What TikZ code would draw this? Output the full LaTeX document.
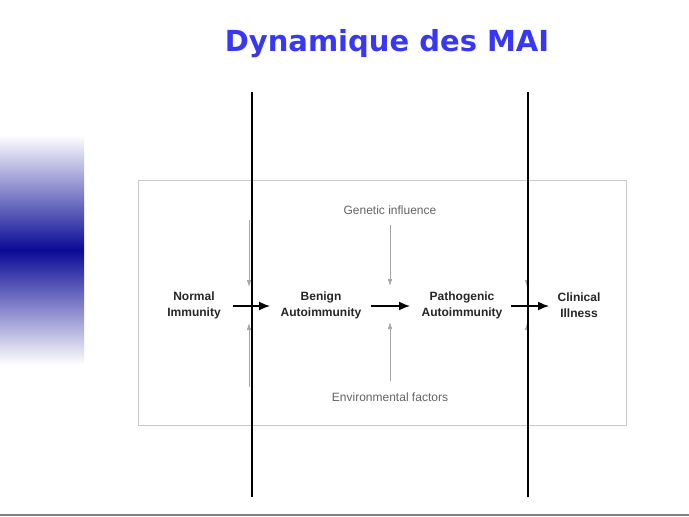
\documentclass[tikz,border=0pt]{standalone}
\usepackage{fontspec}
\setmainfont{Liberation Sans}
\newfontfamily\titlefont{DejaVu Sans}
\usetikzlibrary{arrows.meta}
\definecolor{titleblue}{RGB}{55,55,245}
\definecolor{bardark}{RGB}{10,10,150}
\definecolor{framegray}{RGB}{200,200,200}
\definecolor{softgray}{RGB}{100,100,100}
\tikzset{
  stage/.style={font=\bfseries\fontsize{12}{16}\selectfont, align=center, text=black!85, inner sep=0pt},
  factor/.style={font=\fontsize{12}{14}\selectfont, text=softgray},
  mainarrow/.style={-{Latex[length=11pt,width=9pt]}, line width=1.6pt, black},
  minorarrow/.style={-{Latex[length=7pt,width=4.5pt]}, line width=0.7pt, gray!70},
  divider/.style={line width=2.6pt, black}
}
\begin{document}
\begin{tikzpicture}[x=1pt,y=-1pt]
\useasboundingbox (0,0) rectangle (689,517);
\fill[white] (0,0) rectangle (689,517);
% left gradient bar
\shade[top color=white, bottom color=white, middle color=bardark] (0,135) rectangle (84,365);
% bottom line
\draw[gray, line width=1.5pt] (0,515) -- (689,515);
% title
\node[font=\titlefont\bfseries\fontsize{29}{33}\selectfont, text=titleblue] (title) at (387,44) {Dynamique des MAI};
% frame
\draw[framegray, line width=0.8pt] (138,180) rectangle (626,425);
% stages
\node[stage] (normal) at (194,305) {Normal\\Immunity};
\node[stage] (benign) at (321,305) {Benign\\Autoimmunity};
\node[stage] (patho) at (462,305) {Pathogenic\\Autoimmunity};
\node[stage] (clin) at (579,305) {Clinical\\Illness};
% factors
\node[factor] (gen) at (390,210) {Genetic influence};
\node[factor] (env) at (390,397) {Environmental factors};
\coordinate (gtip) at (390,286);
\coordinate (etip) at (390,322);
\draw[minorarrow] (gen.south) ++(0,7) -- (gtip);
\draw[minorarrow] (env.north) ++(0,-8) -- (etip);
% gray arrows behind dividers
\coordinate (l1a) at (249,220); \coordinate (l1b) at (249,287);
\coordinate (l1c) at (249,387); \coordinate (l1d) at (249,323);
\coordinate (r1a) at (527,220); \coordinate (r1b) at (527,287);
\coordinate (r1c) at (527,387); \coordinate (r1d) at (527,323);
\draw[minorarrow] (l1a) -- (l1b);
\draw[minorarrow] (l1c) -- (l1d);
\draw[minorarrow] (r1a) -- (r1b);
\draw[minorarrow] (r1c) -- (r1d);
% main arrows
\coordinate (s1) at (233,306); \coordinate (e1) at (270,306);
\coordinate (s2) at (371,306); \coordinate (e2) at (410,306);
\coordinate (s3) at (511,306); \coordinate (e3) at (549,306);
\draw[mainarrow] (s1) -- (e1);
\draw[mainarrow] (s2) -- (e2);
\draw[mainarrow] (s3) -- (e3);
% dividers
\coordinate (d1t) at (252,92); \coordinate (d1b) at (252,497);
\coordinate (d2t) at (528,92); \coordinate (d2b) at (528,497);
\draw[divider] (d1t) -- (d1b);
\draw[divider] (d2t) -- (d2b);
\end{tikzpicture}
\end{document}
